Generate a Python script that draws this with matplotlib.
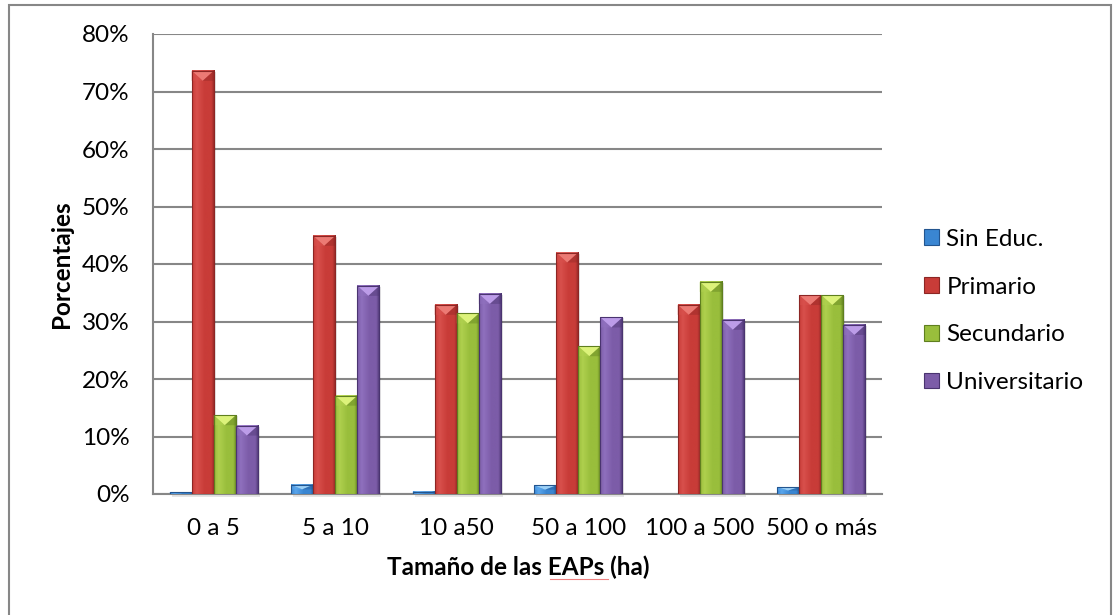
import numpy as np
import matplotlib
matplotlib.use("Agg")
import matplotlib.pyplot as plt
from matplotlib.patches import Rectangle, Polygon, Patch
from matplotlib.colors import LinearSegmentedColormap
from matplotlib.ticker import PercentFormatter
from matplotlib.lines import Line2D

# ---- data (percent of farms by education level of the producer) ----
categories = ["0 a 5", "5 a 10", "10 a50", "50 a 100", "100 a 500", "500 o más"]
series_names = ["Sin Educ.", "Primario", "Secundario", "Universitario"]
sin_educ = [0.3, 1.6, 0.4, 1.5, 0.0, 1.2]
primario = [73.6, 44.9, 32.9, 42.0, 32.9, 34.6]
secundario = [13.7, 17.1, 31.4, 25.7, 36.9, 34.6]
universitario = [11.9, 36.2, 34.8, 30.7, 30.3, 29.4]
y_ticks = [0, 10, 20, 30, 40, 50, 60, 70, 80]

series_values = [sin_educ, primario, secundario, universitario]

# shading for each series: (edge/dark, highlight, body, bevel top)
palette = [
    ("#23558f", "#5aa6ec", "#3a86d2", "#9cd0f6"),
    ("#8c2624", "#d8504c", "#c83c38", "#ec7a74"),
    ("#5f7f1f", "#afd04e", "#99be3c", "#dcf27a"),
    ("#4a3470", "#8f70be", "#7c5ca8", "#bc9ce8"),
]

plt.rcParams["font.family"] = ["Lato", "DejaVu Sans"]
FS = 17.5

fig = plt.figure(figsize=(11.15, 6.15), dpi=100)
W, H = 1115, 615
ax = fig.add_axes([153 / W, 1 - 494 / H, (882 - 153) / W, (494 - 34) / H])

n_series = len(series_values)
gap = 1.5
bar_w = 1.0 / (n_series + gap)
x = np.arange(len(categories))

ax.set_xlim(-0.5, len(categories) - 0.5)
ax.set_ylim(y_ticks[0], y_ticks[-1])

# convert a size in pixels to data units
ax_h_px = (494 - 34)
ax_w_px = (882 - 153)
px_y = (y_ticks[-1] - y_ticks[0]) / ax_h_px
px_x = len(categories) / ax_w_px


def draw_bar(x0, h, colors):
    dark, light, body, top = colors
    if h <= 0:
        return
    x1 = x0 + bar_w
    xc = 0.5 * (x0 + x1)
    # soft drop shadow
    ax.add_patch(Rectangle((x0 + 2 * px_x, -3 * px_y), bar_w, h + 2 * px_y,
                           facecolor="#000000", alpha=0.10, lw=0,
                           zorder=2, clip_on=False))
    # body with horizontal shading
    cmap = LinearSegmentedColormap.from_list(
        "s", [(0.0, body), (0.2, light), (0.55, body), (0.85, body), (1.0, dark)])
    grad = np.linspace(0, 1, 64)[None, :]
    ax.imshow(grad, extent=[x0, x1, 0, h], aspect="auto", cmap=cmap,
              interpolation="bilinear", zorder=3)
    # bevelled top
    bh = min(10 * px_y, 0.5 * h)
    ax.add_patch(Polygon([(x0, h), (x1, h), (xc, h - bh)], closed=True,
                         facecolor=top, edgecolor="none", zorder=4))
    ax.add_patch(Polygon([(x0, h), (xc, h - bh), (x0, h - bh)], closed=True,
                         facecolor=light, edgecolor="none", alpha=0.6, zorder=4))
    ax.add_patch(Polygon([(x1, h), (xc, h - bh), (x1, h - bh)], closed=True,
                         facecolor=dark, edgecolor="none", alpha=0.4, zorder=4))
    ax.add_patch(Rectangle((x0, 0), bar_w, h, facecolor="none",
                           edgecolor=dark, lw=0.8, zorder=5))


for i, (vals, cols) in enumerate(zip(series_values, palette)):
    offs = (i - (n_series - 1) / 2) * bar_w
    for xi, v in zip(x, vals):
        draw_bar(xi + offs - bar_w / 2, v, cols)

ax.set_xlim(-0.5, len(categories) - 0.5)
ax.set_ylim(y_ticks[0], y_ticks[-1])

# axes and grid
grid_c = "#878787"
ax.set_yticks(y_ticks)
ax.yaxis.set_major_formatter(PercentFormatter(decimals=0))
ax.set_xticks(x)
ax.set_xticklabels(categories)
ax.yaxis.grid(True, color=grid_c, lw=1.5)
ax.set_axisbelow(True)
for s in ["top", "right"]:
    ax.spines[s].set_visible(False)
for s in ["left", "bottom"]:
    ax.spines[s].set_color(grid_c)
    ax.spines[s].set_linewidth(1.5)
ax.tick_params(axis="y", length=0, pad=17, labelsize=FS)
ax.tick_params(axis="x", length=0, pad=17, labelsize=FS)

ax.set_xlabel("Tamaño de las EAPs (ha)", fontsize=FS, fontweight="bold")
ax.set_ylabel("Porcentajes", fontsize=FS, fontweight="bold")
ax.xaxis.set_label_coords((518 - 153) / ax_w_px, -(567 - 494) / ax_h_px)
ax.xaxis.label.set_va("center")
ax.yaxis.set_label_coords((61 - 153) / ax_w_px, 0.5)
ax.yaxis.label.set_va("center")

# legend
handles = [Patch(facecolor=c[2], edgecolor=c[0], lw=0.8) for c in palette]
fig.legend(handles, series_names, loc="center left",
           bbox_to_anchor=(924 / W, 1 - 311 / H), frameon=False,
           fontsize=FS, handlelength=0.62, handleheight=0.62,
           handletextpad=0.3, labelspacing=1.1, borderpad=0,
           borderaxespad=0)

# faint proofing underline beneath the axis title
fig.add_artist(Line2D([550 / W, 608 / W], [1 - 579 / H, 1 - 579 / H],
                      color="#f08080", lw=0.8))

# outer chart border
fig.add_artist(Rectangle((9 / W, -0.02), (1111 - 9) / W, 1.02 - 5 / H,
                         facecolor="none", edgecolor=grid_c, lw=1.5,
                         transform=fig.transFigure))

fig.savefig("out.png", dpi=100)
